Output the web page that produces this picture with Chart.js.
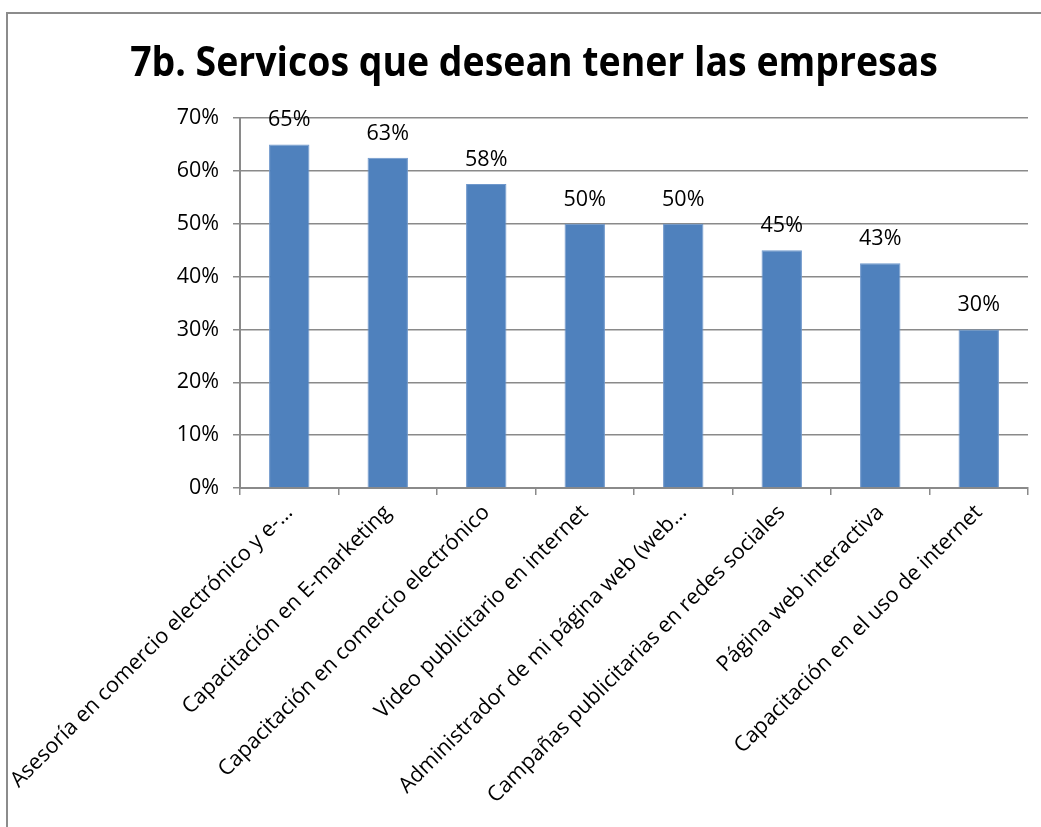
<!DOCTYPE html>
<html>
<head>
<meta charset="utf-8">
<script src="https://cdn.jsdelivr.net/npm/chart.js@4.4.0/dist/chart.umd.min.js"></script>
<style>
  html, body { margin: 0; padding: 0; background: #ffffff; }
  #wrap { position: relative; width: 1041px; height: 827px; }
</style>
</head>
<body>
<div id="wrap"><canvas id="c" width="1041" height="827"></canvas></div>
<script>
const chartTitle = "7b. Servicos que desean tener las empresas";
const categories = [
  "Asesoría en comercio electrónico y e-…",
  "Capacitación en E-marketing",
  "Capacitación en comercio electrónico",
  "Video publicitario en internet",
  "Administrador de mi página web (web…",
  "Campañas publicitarias en redes sociales",
  "Página web interactiva",
  "Capacitación en el uso de internet"
];
const values = [65, 62.5, 57.5, 50, 50, 45, 42.5, 30];
const yTicks = [0, 10, 20, 30, 40, 50, 60, 70];

const FONT = "'Open Sans', 'DejaVu Sans', sans-serif";
const GRID = '#8a8a8a';
const FS = 21.5;

const framePlugin = {
  id: 'frame',
  beforeDraw(chart) {
    const ctx = chart.ctx;
    ctx.save();
    ctx.fillStyle = '#ffffff';
    ctx.fillRect(0, 0, chart.width, chart.height);
    ctx.strokeStyle = '#8c8c8c';
    ctx.lineWidth = 2;
    ctx.beginPath();
    ctx.moveTo(1041, 13);
    ctx.lineTo(7, 13);
    ctx.lineTo(7, 827);
    ctx.stroke();
    ctx.restore();
  }
};

const titlePlugin = {
  id: 'bigTitle',
  afterDraw(chart) {
    const ctx = chart.ctx;
    ctx.save();
    let size = 40;
    ctx.font = 'bold ' + size + 'px ' + FONT;
    const w = ctx.measureText(chartTitle).width;
    size = Math.min(40, size * 808 / w);
    ctx.font = 'bold ' + size + 'px ' + FONT;
    ctx.fillStyle = '#000000';
    ctx.textAlign = 'center';
    ctx.textBaseline = 'alphabetic';
    ctx.translate(534, 76);
    ctx.scale(1, 1.12);
    ctx.fillText(chartTitle, 0, 0);
    ctx.restore();
  }
};

const valueLabels = {
  id: 'valueLabels',
  afterDatasetsDraw(chart) {
    const ctx = chart.ctx;
    const meta = chart.getDatasetMeta(0);
    ctx.save();
    ctx.font = FS + 'px ' + FONT;
    ctx.fillStyle = '#000000';
    ctx.textAlign = 'center';
    ctx.textBaseline = 'alphabetic';
    meta.data.forEach((el, i) => {
      ctx.fillText(Math.round(values[i]) + '%', el.x, el.y - 18);
    });
    ctx.restore();
  }
};

new Chart(document.getElementById('c'), {
  type: 'bar',
  data: {
    labels: categories,
    datasets: [{
      data: values,
      backgroundColor: '#4F81BD',
      borderColor: '#6f98cc',
      borderWidth: 1,
      barPercentage: 0.41,
      categoryPercentage: 1.0
    }]
  },
  options: {
    responsive: false,
    animation: false,
    devicePixelRatio: 1,
    layout: { padding: { top: 118, left: 0, right: 13, bottom: 0 } },
    plugins: {
      legend: { display: false },
      title: { display: false },
      tooltip: { enabled: false }
    },
    scales: {
      x: {
        offset: true,
        afterFit(scale) {
          scale.height = 339;
          scale.paddingLeft = 0;
          scale.paddingRight = 0;
        },
        grid: {
          offset: true,
          drawOnChartArea: false,
          drawTicks: true,
          tickLength: 7,
          color: GRID,
          lineWidth: 1.5
        },
        border: { display: true, color: GRID, width: 2 },
        ticks: {
          minRotation: 45,
          maxRotation: 45,
          autoSkip: false,
          color: '#000000',
          padding: 5,
          font: { family: FONT, size: FS }
        }
      },
      y: {
        min: 0,
        max: 70,
        afterFit(scale) { scale.width = 240; },
        afterBuildTicks(scale) { scale.ticks = yTicks.map(v => ({ value: v })); },
        grid: {
          color: GRID,
          lineWidth: 1.5,
          drawTicks: true,
          tickLength: 7
        },
        border: { display: true, color: GRID, width: 2 },
        ticks: {
          stepSize: 10,
          color: '#000000',
          padding: 14,
          font: { family: FONT, size: FS },
          callback: v => v + '%'
        }
      }
    }
  },
  plugins: [framePlugin, titlePlugin, valueLabels]
});
</script>
</body>
</html>
